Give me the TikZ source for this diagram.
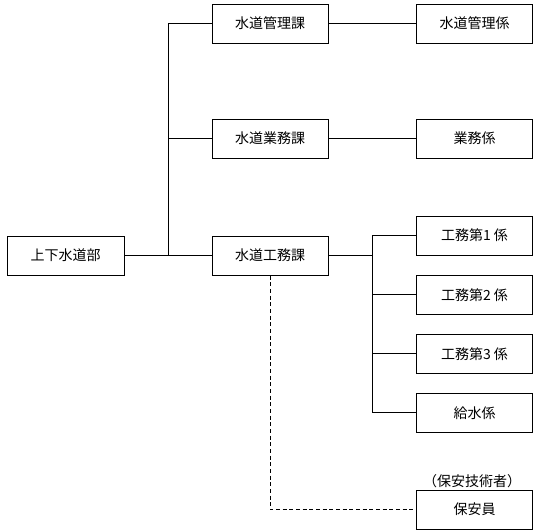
\documentclass[tikz,border=0pt]{standalone}
\usepackage{fontspec}
\setmainfont{Noto Sans CJK JP}
\begin{document}
\begin{tikzpicture}[x=0.75pt,y=-0.75pt,
  box/.style={draw, line width=0.75pt, minimum width=87pt, minimum height=29.25pt, inner sep=0pt, font=\fontsize{10.5pt}{12pt}\selectfont},
  link/.style={line width=0.75pt},
  dline/.style={line width=0.75pt, dash pattern=on 3pt off 2pt}]
\useasboundingbox (0,0) rectangle (540,532);
\node[box, minimum width=87.75pt] (bu) at (65.5,255.5) {上下水道部};
\node[box] (k1) at (270,23.5) {水道管理課};
\node[box] (k2) at (270,138.5) {水道業務課};
\node[box] (k3) at (270,255.5) {水道工務課};
\node[box] (g1) at (474.5,23.5) {水道管理係};
\node[box] (g2) at (474.5,138.5) {業務係};
\node[box] (g3) at (474.5,235.5) {工務第1 係};
\node[box] (g4) at (474.5,294.8) {工務第2 係};
\node[box] (g5) at (474.5,353.8) {工務第3 係};
\node[box] (g6) at (474.5,412.8) {給水係};
\node[box] (g7) at (474.5,509.5) {保安員};
\node[font=\fontsize{10.5pt}{12pt}\selectfont, inner sep=0pt] (lab) at (472,481) {（保安技術者）};
\coordinate (tr) at (168.5,255.5);
\coordinate (tr2) at (372,255.5);
\draw[link] (bu.east) -- (k3.west);
\draw[link] (k1.west) -| (tr);
\draw[link] (k2.west) -- (k2.west -| tr);
\draw[link] (k1.east) -- (g1.west);
\draw[link] (k2.east) -- (g2.west);
\draw[link] (k3.east) -- (tr2);
\draw[link] (g3.west) -| (tr2);
\draw[link] (g6.west) -| (tr2);
\draw[link] (g4.west) -- (g4.west -| tr2);
\draw[link] (g5.west) -- (g5.west -| tr2);
\draw[dline] (k3.south) |- (g7.west);
\end{tikzpicture}
\end{document}
